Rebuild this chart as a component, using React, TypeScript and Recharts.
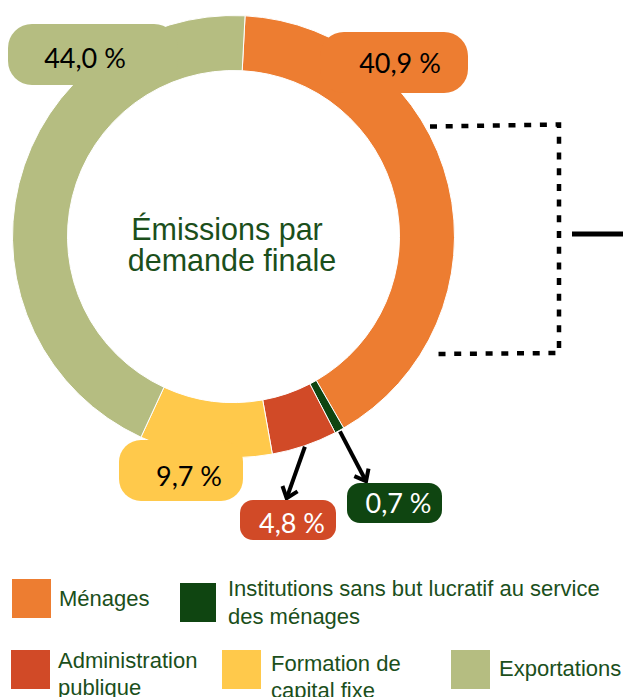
import React from 'react';
import { PieChart, Pie, Cell, Legend } from 'recharts';

const categories = [
  'Ménages',
  'Institutions sans but lucratif au service des ménages',
  'Administration publique',
  'Formation de capital fixe',
  'Exportations',
];
const shares = [40.9, 0.7, 4.8, 9.7, 44.0];
const shareLabels = ['40,9 %', '0,7 %', '4,8 %', '9,7 %', '44,0 %'];
const centerTitle = ['Émissions par', 'demande finale'];

const COLORS = ['#ED7D31', '#0F4511', '#D14A27', '#FFC94B', '#B5BD81'];
const TEXT_GREEN = '#1B4F1B';

const data = categories.map((name, i) => ({ name, value: shares[i], label: shareLabels[i] }));

const W = 623;
const H = 697;
const CX = 233.5;
const CY = 236.5;
const RAD = Math.PI / 180;

// boxes around the percentages, offsets from the pie centre
const LABEL_BOX = [
  { x: 86.5, y: -204.5, w: 148, h: 61, r: 24, tx: 166.5, ty: -163.5, color: '#000', arrow: null },
  { x: 113.5, y: 246.5, w: 95, h: 40, r: 13, tx: 165, ty: 276.5, color: '#fff', arrow: [133.5, 246.5] },
  { x: 6.5, y: 263.5, w: 96, h: 40, r: 13, tx: 58.5, ty: 296.5, color: '#fff', arrow: [52.5, 263.5] },
  { x: -114.5, y: 203.5, w: 124, h: 61, r: 22, tx: -44.5, ty: 249.5, color: '#000', arrow: null },
  { x: -225.5, y: -212.5, w: 170, h: 61, r: 24, tx: -148.5, ty: -168.5, color: '#000', arrow: null },
];

// legend placement, relative to the legend box top (y = 560)
const LEGEND_POS = [
  { sx: 12, sy: 19, sw: 39, sh: 39, tx: 59, ty: 25.3, tw: 160 },
  { sx: 180, sy: 23, sw: 36, sh: 39, tx: 228, ty: 15.3, tw: 385 },
  { sx: 11, sy: 90, sw: 39, sh: 39, tx: 58, ty: 86.9, tw: 160 },
  { sx: 222, sy: 90, sw: 39, sh: 39, tx: 271, ty: 89.6, tw: 160 },
  { sx: 451, sy: 90, sw: 39, sh: 39, tx: 499, ty: 95.3, tw: 160 },
];

const renderLabel = (props: any) => {
  const { cx, cy, midAngle, outerRadius, index } = props;
  const b = LABEL_BOX[index];
  let arrow = null;
  if (b.arrow) {
    const sx = cx + (outerRadius + 1) * Math.cos(-midAngle * RAD);
    const sy = cy + (outerRadius + 1) * Math.sin(-midAngle * RAD);
    const ex = cx + b.arrow[0];
    const ey = cy + b.arrow[1];
    const len = Math.hypot(ex - sx, ey - sy);
    const ux = (ex - sx) / len;
    const uy = (ey - sy) / len;
    const hx = ex - ux * 12;
    const hy = ey - uy * 12;
    arrow = (
      <g stroke="#000" strokeWidth={4} fill="none">
        <line x1={sx} y1={sy} x2={ex - ux * 2} y2={ey - uy * 2} />
        <polyline
          points={`${hx - uy * 8},${hy + ux * 8} ${ex - ux * 2},${ey - uy * 2} ${hx + uy * 8},${hy - ux * 8}`}
          strokeLinejoin="miter"
        />
      </g>
    );
  }
  return (
    <g key={`lbl-${index}`}>
      {arrow}
      <rect x={cx + b.x} y={cy + b.y} width={b.w} height={b.h} rx={b.r} ry={b.r} fill={COLORS[index]} />
      <text
        x={cx + b.tx}
        y={cy + b.ty}
        textAnchor="middle"
        fill={b.color}
        fontFamily="Lato, 'Open Sans', sans-serif"
        fontSize={27}
      >
        {data[index].label}
      </text>
    </g>
  );
};

const LegendContent = () => (
  <div style={{ position: 'relative', width: W, height: H - 560, fontFamily: "'Liberation Sans', Arial, sans-serif" }}>
    {categories.map((name, i) => {
      const p = LEGEND_POS[i];
      return (
        <React.Fragment key={name}>
          <div
            style={{ position: 'absolute', left: p.sx, top: p.sy, width: p.sw, height: p.sh, background: COLORS[i] }}
          />
          <div
            style={{
              position: 'absolute',
              left: p.tx,
              top: p.ty,
              width: p.tw,
              fontSize: 22,
              lineHeight: '27.5px',
              color: TEXT_GREEN,
            }}
          >
            {name}
          </div>
        </React.Fragment>
      );
    })}
  </div>
);

export default function App() {
  return (
    <div style={{ position: 'absolute', left: 0, top: 0, width: W, height: H, overflow: 'hidden', background: '#fff' }}>
      <PieChart width={W} height={H} margin={{ top: 0, right: 0, bottom: 0, left: 0 }}>
        <Pie
          data={data}
          dataKey="value"
          nameKey="name"
          cx={CX}
          cy={CY}
          innerRadius={166}
          outerRadius={221}
          startAngle={87}
          endAngle={-273}
          stroke="#fff"
          strokeWidth={1}
          label={renderLabel}
          labelLine={false}
          isAnimationActive={false}
        >
          {data.map((d, i) => (
            <Cell key={d.name} fill={COLORS[i]} />
          ))}
        </Pie>
        <Legend
          content={<LegendContent />}
          wrapperStyle={{ left: 0, top: 560, bottom: 'auto', width: W, height: H - 560 }}
        />
      </PieChart>
      <svg width={W} height={400} style={{ position: 'absolute', left: 0, top: 0, pointerEvents: 'none' }}>
        <text fill={TEXT_GREEN} fontFamily="'Liberation Sans', Arial, sans-serif" fontSize={30.5} textAnchor="middle">
          <tspan x={CX - 6.5} y={CY + 3.5}>{centerTitle[0]}</tspan>
          <tspan x={CX - 1.5} y={CY + 34}>{centerTitle[1]}</tspan>
        </text>
        <path
          d="M430 126.5 L559 124.5 L559 353 L431 354"
          fill="none"
          stroke="#000"
          strokeWidth={4.5}
          strokeDasharray="7 8.7"
        />
        <line x1={572} y1={234} x2={623} y2={234} stroke="#000" strokeWidth={5} />
      </svg>
    </div>
  );
}
